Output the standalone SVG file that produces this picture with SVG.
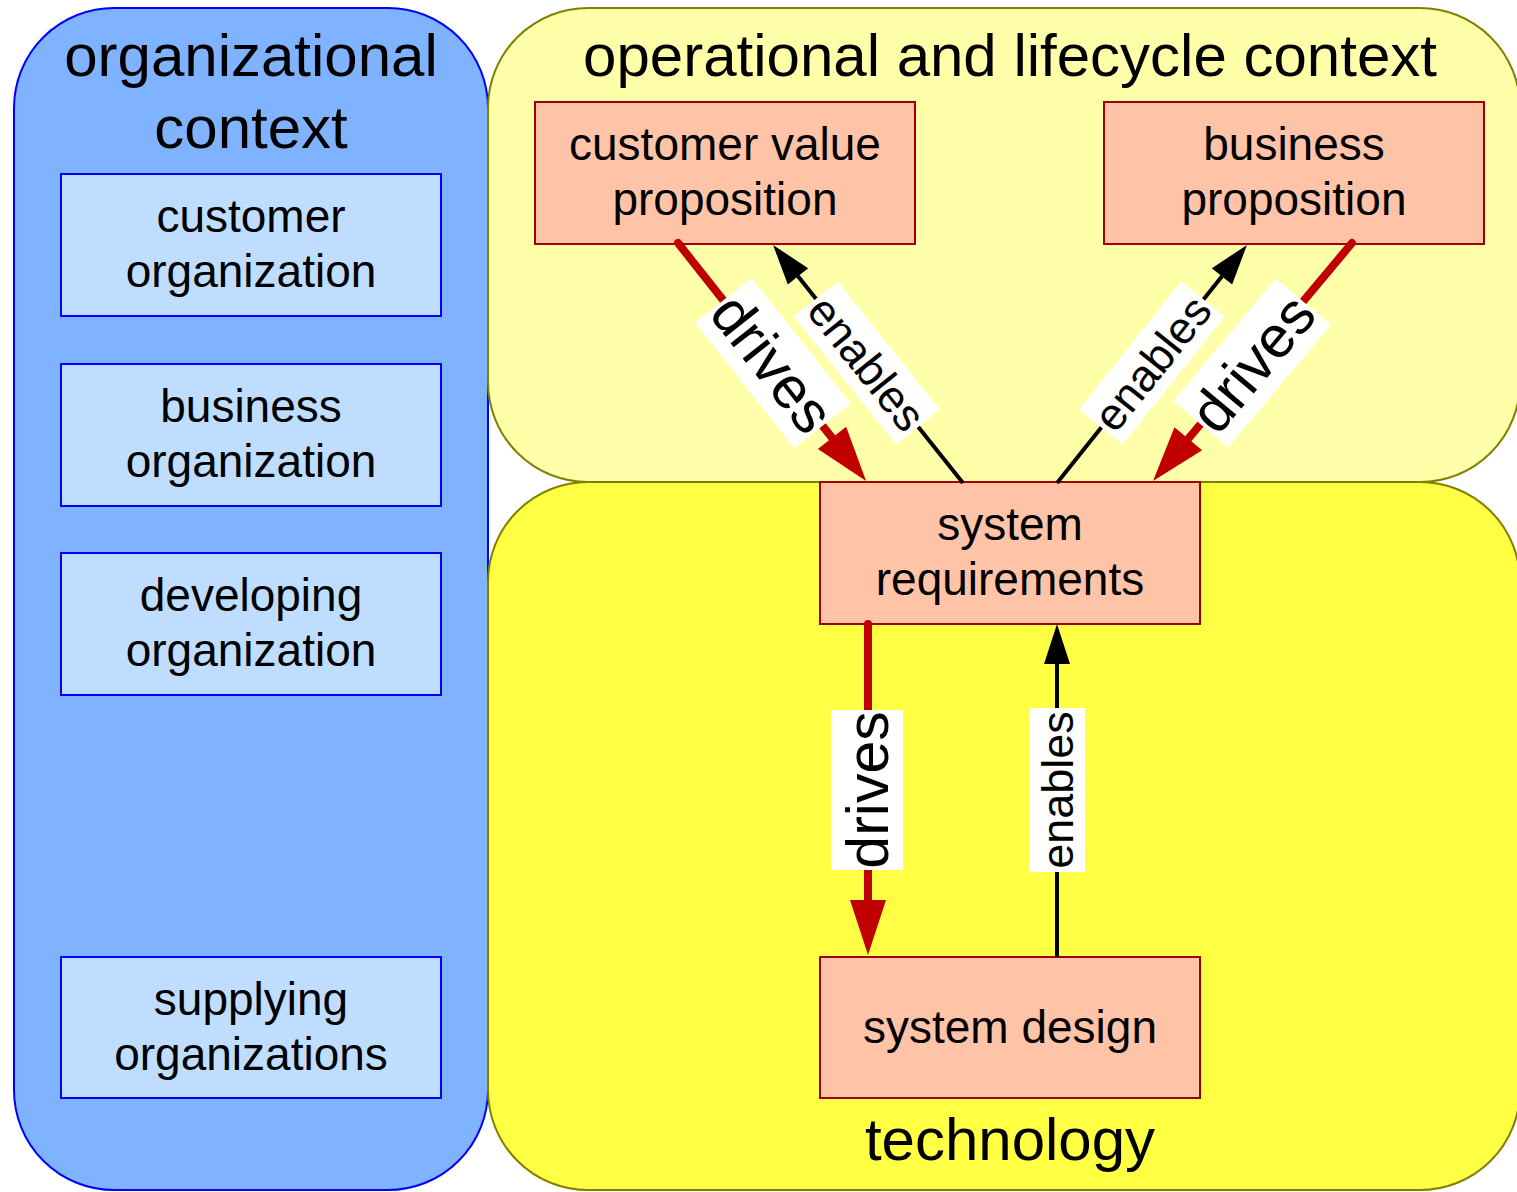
<svg xmlns="http://www.w3.org/2000/svg" width="1517" height="1192" viewBox="0 0 1517 1192">
<style>
text{font-family:"Liberation Sans",Arial,sans-serif;fill:#000;text-anchor:middle}
.title{font-size:60px}
.bt{font-size:46px}
.org{fill:#bfdeff;stroke:#0000ff;stroke-width:2}
.sal{fill:#ffc4a7;stroke:#a00000;stroke-width:2}
.red{stroke:#c00000;stroke-width:8;fill:none;stroke-linecap:round}
.blk{stroke:#000;stroke-width:4;fill:none}
.lbl{fill:#fff}
.dl{font-size:59px}
.el{font-size:45px}
</style>
<defs>
<marker id="ar" markerUnits="userSpaceOnUse" markerWidth="56" markerHeight="38" refX="0" refY="18" orient="auto" overflow="visible"><path d="M0,0 L55,18 L0,36 z" fill="#c00000"/></marker>
<marker id="ab" markerUnits="userSpaceOnUse" markerWidth="41" markerHeight="28" refX="0" refY="13" orient="auto" overflow="visible"><path d="M0,0 L40,13 L0,26 z" fill="#000"/></marker>
</defs>
<g id="org-context">
<rect x="14" y="8" width="474" height="1182" rx="100" fill="#80b3ff" stroke="#0000ff" stroke-width="2"/>
<text class="title" x="251" y="76">organizational</text>
<text class="title" x="251" y="148">context</text>
</g>
<g id="op-context">
<rect x="488" y="8" width="1032" height="474" rx="100" fill="#ffffaa" stroke="#808000" stroke-width="2"/>
<text class="title" x="1010" y="76">operational and lifecycle context</text>
</g>
<g id="technology">
<rect x="488" y="482" width="1032" height="708" rx="100" fill="#ffff44" stroke="#808000" stroke-width="2"/>
<text class="title" x="1010" y="1160">technology</text>
</g>
<g id="customer-org"><rect class="org" x="61" y="174" width="380" height="142"/><text class="bt" x="251" y="232">customer</text><text class="bt" x="251" y="287">organization</text></g>
<g id="business-org"><rect class="org" x="61" y="364" width="380" height="142"/><text class="bt" x="251" y="422">business</text><text class="bt" x="251" y="477">organization</text></g>
<g id="developing-org"><rect class="org" x="61" y="553" width="380" height="142"/><text class="bt" x="251" y="611">developing</text><text class="bt" x="251" y="666">organization</text></g>
<g id="supplying-org"><rect class="org" x="61" y="957" width="380" height="141"/><text class="bt" x="251" y="1015">supplying</text><text class="bt" x="251" y="1070">organizations</text></g>
<g id="cvp"><rect class="sal" x="535" y="102" width="380" height="142"/><text class="bt" x="725" y="160">customer value</text><text class="bt" x="725" y="215">proposition</text></g>
<g id="bp"><rect class="sal" x="1104" y="102" width="380" height="142"/><text class="bt" x="1294" y="160">business</text><text class="bt" x="1294" y="215">proposition</text></g>
<g id="sysreq"><rect class="sal" x="820" y="482" width="380" height="142"/><text class="bt" x="1010" y="540">system</text><text class="bt" x="1010" y="595">requirements</text></g>
<g id="sysdesign"><rect class="sal" x="820" y="957" width="380" height="141"/><text class="bt" x="1010" y="1043">system design</text></g>
<g id="connectors">
<line class="red" x1="678" y1="243" x2="832" y2="437.8" marker-end="url(#ar)"/>
<line class="blk" x1="963" y1="483" x2="798" y2="276.3" marker-end="url(#ab)"/>
<line class="blk" x1="1057" y1="483" x2="1222" y2="276.3" marker-end="url(#ab)"/>
<line class="red" x1="1352" y1="243" x2="1188.3" y2="438.8" marker-end="url(#ar)"/>
<line class="red" x1="868" y1="624" x2="868" y2="900" marker-end="url(#ar)"/>
<line class="blk" x1="1057" y1="957" x2="1057" y2="664" marker-end="url(#ab)"/>
<g transform="translate(773,363) rotate(51.7)"><rect class="lbl" x="-80" y="-36" width="160" height="72"/><text class="dl" x="0" y="21">drives</text></g>
<g transform="translate(867,363) rotate(51.4)"><rect class="lbl" x="-82" y="-28" width="164" height="56"/><text class="el" x="0" y="16">enables</text></g>
<g transform="translate(1152,363) rotate(-51.4)"><rect class="lbl" x="-82" y="-28" width="164" height="56"/><text class="el" x="0" y="16">enables</text></g>
<g transform="translate(1252,363) rotate(-50.1)"><rect class="lbl" x="-80" y="-36" width="160" height="72"/><text class="dl" x="0" y="21">drives</text></g>
<g transform="translate(867,790) rotate(-90)"><rect class="lbl" x="-80" y="-36" width="160" height="72"/><text class="dl" x="0" y="21">drives</text></g>
<g transform="translate(1057,790) rotate(-90)"><rect class="lbl" x="-82" y="-28" width="164" height="56"/><text class="el" x="0" y="16">enables</text></g>
</g>
</svg>
